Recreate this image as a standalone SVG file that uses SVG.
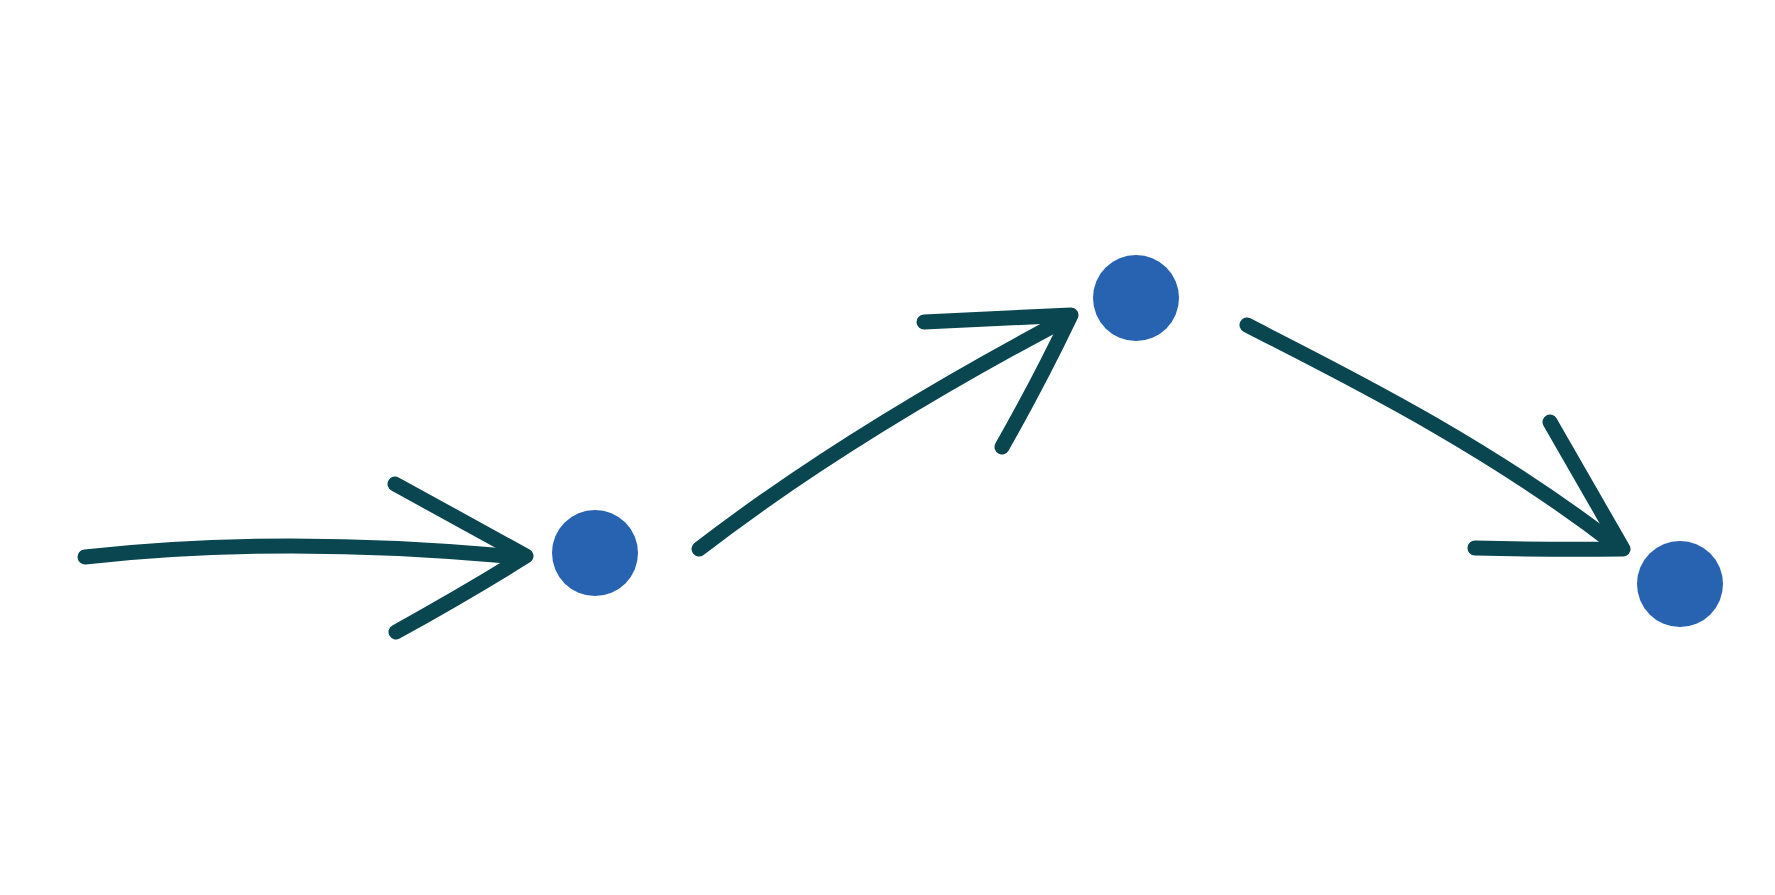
<svg xmlns="http://www.w3.org/2000/svg" width="1775" height="895" viewBox="0 0 1775 895">
<style>
.c{fill:none;stroke:#0a4650;stroke-width:15;stroke-linecap:round;stroke-linejoin:round}
.n{fill:#2863b1}
</style>
<rect width="1775" height="895" fill="#ffffff"/>
<g id="connectors">
<path class="c" d="M85,557 Q281,535 518,557"/>
<path class="c" d="M395,484 L526,556 Q465,594 396,632"/>
<path class="c" d="M699,549 Q847,435 1064,320"/>
<path class="c" d="M924,322 L1071,315 Q1040,380 1002,447"/>
<path class="c" d="M1247,325 C1330,368 1480,440 1617,546"/>
<path class="c" d="M1550,422 L1623,549 Q1550,550 1475,548"/>
</g>
<g id="node1"><circle class="n" cx="595" cy="553" r="43"/></g>
<g id="node2"><circle class="n" cx="1136" cy="298" r="43"/></g>
<g id="node3"><circle class="n" cx="1680" cy="584" r="43"/></g>
</svg>
